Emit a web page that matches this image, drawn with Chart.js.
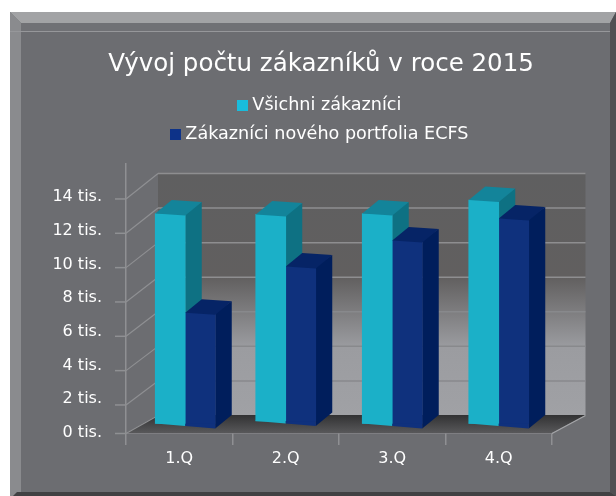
<!DOCTYPE html>
<html><head><meta charset="utf-8">
<script src="https://cdn.jsdelivr.net/npm/chart.js@4/dist/chart.umd.min.js"></script>
<style>html,body{margin:0;padding:0;background:#fff}canvas{display:block}</style></head>
<body><canvas id="c" width="616" height="496"></canvas>
<script>
const categories = ['1.Q','2.Q','3.Q','4.Q'];
const vsichni = [12500,12300,12500,13300];
const ecfs = [6600,9200,10900,12200];
const yMax = 16000, yStep = 2000, yTop = 14000;
const seriesNames = ['Všichni zákazníci','Zákazníci nového portfolia ECFS'];
const groupNudge = [6,0,0,0];
const baseNudge = [0,-2.5,0,0];
const FONT = '"DejaVu Sans"';

const front = ['#1bb0c8','#0f317d'], top3d = ['#13849a','#062466'], side3d = ['#0e7183','#001e5c'];
const legendCol = ['#19bcdc','#0d3288'];
const D = {dx:16.5, dy:-13.5, bars:-9, slope:5/60, topSlope:2/30};
const wall = {l:158, r:585.5, b:415, t:173};
const frontRight = 552;
const AX = '#8f9093';
const legendGapBelow = 10;

function poly(ctx,pts,fill){ctx.beginPath();pts.forEach((p,i)=>i?ctx.lineTo(p[0],p[1]):ctx.moveTo(p[0],p[1]));ctx.closePath();ctx.fillStyle=fill;ctx.fill();}
function line(ctx,x1,y1,x2,y2,c,w){ctx.beginPath();ctx.moveTo(x1,y1);ctx.lineTo(x2,y2);ctx.strokeStyle=c;ctx.lineWidth=w||1;ctx.stroke();}
function swatch(col){const s=document.createElement('canvas');s.width=11;s.height=11;const x=s.getContext('2d');x.fillStyle=col;x.fillRect(0,0,11,11);return s;}
const swatches = legendCol.map(swatch);

const frame3d = {
  id:'frame3d',
  beforeLayout(chart){
    const L=chart.legend;
    if(L && !L._wrapped){
      const u=L.update.bind(L);
      L.update=(mw,mh,m)=>{u(Math.min(mw,400),mh,m);L.height+=legendGapBelow;};
      L._wrapped=true;
    }
  },
  beforeDraw(chart){
    const c=chart.ctx,W=616,H=496;
    c.save();
    poly(c,[[10,12],[W,12],[W,H],[10,H]],'#6c6d71');
    poly(c,[[21,23],[610,23],[610,31],[21,31]],'#707175');
    poly(c,[[10,12],[W,12],[610,23],[21,23]],'#a2a3a5');
    poly(c,[[10,12],[21,23],[21,H],[10,H]],'#8a8b8e');
    line(c,10,31.5,610,31.5,'#96979a');
    poly(c,[[W,12],[W,H],[610,492],[610,23]],'#505053');
    poly(c,[[17,492],[610,492],[W,H],[13,H]],'#414143');
    c.restore();
  },
  afterDatasetsUpdate(chart){
    chart.data.datasets.forEach((d,i)=>{
      chart.getDatasetMeta(i).data.forEach((el,k)=>{
        el.x+=groupNudge[k]; el.y+=D.bars+baseNudge[k]; el.base+=D.bars+baseNudge[k];
      });
    });
  },
  beforeDatasetsDraw(chart){
    const c=chart.ctx,y=chart.scales.y,p0=y.getPixelForValue(0),p14=y.getPixelForValue(yTop);
    const wallY=v=>wall.b-(p0-y.getPixelForValue(v))/(p0-p14)*(wall.b-wall.t);
    const markY=v=>v===0?p0+0.5:y.getPixelForValue(v)+6.3-v*0.00033;
    c.save();
    const g=c.createLinearGradient(0,wall.t,0,wall.b);
    g.addColorStop(0,'#5f5f60');g.addColorStop(.43,'#615f5f');g.addColorStop(.72,'#9b9ca0');g.addColorStop(1,'#a0a1a5');
    poly(c,[[wall.l,wall.t],[wall.r,wall.t],[wall.r,wall.b],[wall.l,wall.b]],g);
    const f=c.createLinearGradient(0,wall.b,0,p0);
    f.addColorStop(0,'#323233');f.addColorStop(1,'#58585a');
    poly(c,[[126,p0],[frontRight,p0],[wall.r,wall.b],[wall.l,wall.b]],f);
    for(let v=0;v<=yTop;v+=yStep){
      const wy=wallY(v)+.5,my=markY(v);
      line(c,115,my,126,my,AX,1.5);
      line(c,126,my,wall.l,wy,AX,1.2);
      if(v>0) line(c,wall.l,wy,wall.r,wy,v<8000?'#88898c':'#8e8e90',1.5);
    }
    line(c,frontRight,p0+.5,wall.r,wall.b+.5,'#a5a6a9',1.2);
    categories.forEach((_,k)=>{
      chart.data.datasets.forEach((d,i)=>{
        const el=chart.getDatasetMeta(i).data[k];
        const l=el.x-el.width/2,r=el.x+el.width/2;
        const gl=el.x-(i===0?0:el.width)-el.width/2;
        const sl=x=>(x-gl)*D.slope;
        poly(c,[[r,el.y],[r+D.dx,el.y+D.dy+2],[r+D.dx,el.base+sl(r)+D.dy],[r,el.base+sl(r)]],side3d[i]);
        poly(c,[[l,el.base-1],[r,el.base-1],[r,el.base+sl(r)],[l,el.base+sl(l)]],front[i]);
      });
    });
    c.restore();
  },
  afterDatasetsDraw(chart){
    const c=chart.ctx;
    c.save();
    categories.forEach((_,k)=>{
      chart.data.datasets.forEach((d,i)=>{
        const el=chart.getDatasetMeta(i).data[k];
        const l=el.x-el.width/2,r=el.x+el.width/2,t=D.topSlope*el.width;
        poly(c,[[l,el.y],[r,el.y+t],[r+D.dx,el.y+t+D.dy],[l+D.dx,el.y+D.dy]],top3d[i]);
      });
    });
    c.restore();
  }
};

new Chart(document.getElementById('c'),{
  type:'bar',
  plugins:[frame3d],
  data:{labels:categories,datasets:[
    {label:seriesNames[0],data:vsichni,backgroundColor:front[0],borderWidth:0},
    {label:seriesNames[1],data:ecfs,backgroundColor:front[1],borderWidth:0}
  ]},
  options:{
    responsive:false,animation:false,
    layout:{padding:{left:26,right:0,top:0,bottom:0}},
    datasets:{bar:{barThickness:30,clip:false}},
    plugins:{
      title:{display:true,text:'Vývoj počtu zákazníků v roce 2015',color:'#ffffff',
        font:{family:FONT,size:24.5,weight:'normal'},padding:{top:50,bottom:5}},
      legend:{position:'top',
        labels:{color:'#ffffff',font:{family:FONT,size:17.6},usePointStyle:true,pointStyleWidth:3,boxHeight:11,padding:12,
          generateLabels(ch){return seriesNames.map((n,i)=>({text:n,fillStyle:legendCol[i],strokeStyle:legendCol[i],lineWidth:0,fontColor:'#ffffff',pointStyle:swatches[i],datasetIndex:i}));}}},
      tooltip:{enabled:false}
    },
    scales:{
      x:{grid:{drawOnChartArea:false,color:AX,tickLength:12,lineWidth:1.5},border:{color:AX,width:1.5},
        ticks:{color:'#ffffff',font:{family:FONT,size:16},padding:4,maxRotation:0},
        afterFit(s){s.height=63;}},
      y:{min:0,max:yMax,afterFit(s){s.width=100;},
        grid:{drawOnChartArea:false,drawTicks:false},border:{color:AX,width:1.5},
        ticks:{stepSize:yStep,color:'#ffffff',font:{family:FONT,size:16},padding:24,
          callback(v){return v>yTop?'':(v/1000)+' tis.';}}},
      y2:{position:'right',display:true,grid:{display:false,drawTicks:false},border:{display:false},
        ticks:{display:false},afterFit(s){s.width=64;}}
    }
  }
});
</script></body></html>
